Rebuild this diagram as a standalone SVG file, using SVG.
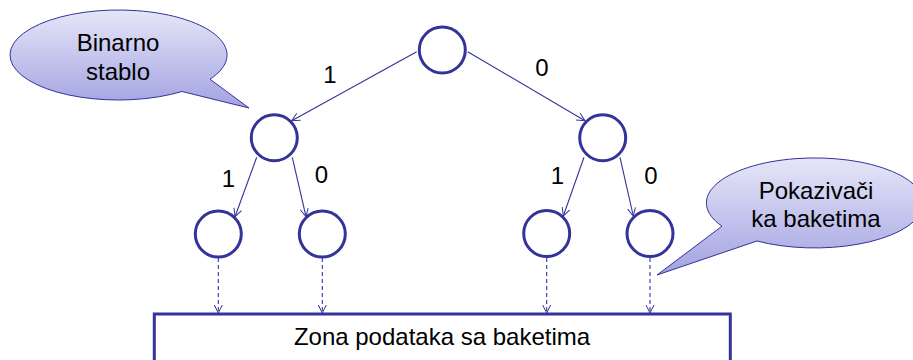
<svg xmlns="http://www.w3.org/2000/svg" width="913" height="360" viewBox="0 0 913 360">
<defs>
<linearGradient id="bub" x1="0" y1="0" x2="0" y2="1">
<stop offset="0" stop-color="#e6e6f8"/>
<stop offset="1" stop-color="#a2a2e2"/>
</linearGradient>
<marker id="ah" markerWidth="12" markerHeight="12" refX="9" refY="5" orient="auto" markerUnits="userSpaceOnUse">
<path d="M1,1 L9,5 L1,9" fill="none" stroke="#333399" stroke-width="1"/>
</marker>
<style>
.node{fill:#fff;stroke:#333399;stroke-width:3}
.edge{stroke:#333399;stroke-width:1.1;fill:none;marker-end:url(#ah)}
.dash{stroke:#3333aa;stroke-width:1.1;fill:none;stroke-dasharray:4 3;marker-end:url(#ah)}
.lbl{font-family:"Liberation Sans",Arial,sans-serif;font-size:24px;fill:#000;text-anchor:middle}
.bubble{fill:url(#bub);stroke:#333399;stroke-width:1}
</style>
</defs>
<rect width="913" height="360" fill="#fff"/>
<g id="bubble-left">
<path class="bubble" d="M210,79.2 L249,108 L182,91.5 A108.5,45 0 1 1 210,79.2 Z"/>
<text class="lbl" x="118" y="51">Binarno</text>
<text class="lbl" x="118" y="80">stablo</text>
</g>
<g id="bubble-right">
<path class="bubble" d="M722,226.2 L657,275 L757,241 A108.5,45 0 1 0 722,226.2 Z"/>
<text class="lbl" x="816" y="199">Pokazivači</text>
<text class="lbl" x="816" y="227">ka baketima</text>
</g>
<g id="connectors">
<line class="edge" x1="416.7" y1="51.7" x2="291.7" y2="120.7"/>
<line class="edge" x1="467.7" y1="51.7" x2="585" y2="120.7"/>
<line class="edge" x1="256.7" y1="157.3" x2="235" y2="216.7"/>
<line class="edge" x1="292.3" y1="157.3" x2="306" y2="216.7"/>
<line class="edge" x1="584" y1="157.3" x2="563.3" y2="216"/>
<line class="edge" x1="620" y1="157.3" x2="633.3" y2="216"/>
<line class="dash" x1="218.3" y1="258" x2="218.3" y2="313"/>
<line class="dash" x1="322.3" y1="258" x2="322.3" y2="313"/>
<line class="dash" x1="546.7" y1="258" x2="546.7" y2="313"/>
<line class="dash" x1="650" y1="258" x2="650" y2="313"/>
</g>
<g id="edge-labels">
<text class="lbl" x="330" y="83">1</text>
<text class="lbl" x="542" y="76">0</text>
<text class="lbl" x="228.5" y="187">1</text>
<text class="lbl" x="321.5" y="183">0</text>
<text class="lbl" x="557.5" y="184">1</text>
<text class="lbl" x="651" y="184">0</text>
</g>
<g id="n-root"><circle class="node" cx="442.3" cy="50" r="23"/></g>
<g id="n-1"><circle class="node" cx="274.3" cy="137.7" r="23"/></g>
<g id="n-0"><circle class="node" cx="602.7" cy="137.7" r="23"/></g>
<g id="n-11"><circle class="node" cx="218.3" cy="234" r="23"/></g>
<g id="n-10"><circle class="node" cx="322.3" cy="234" r="23"/></g>
<g id="n-01"><circle class="node" cx="546.7" cy="233.5" r="23"/></g>
<g id="n-00"><circle class="node" cx="650" cy="233.5" r="23"/></g>
<g id="zone">
<rect x="154.3" y="314" width="576" height="60" fill="#fff" stroke="#333399" stroke-width="3"/>
<text class="lbl" x="442" y="345">Zona podataka sa baketima</text>
</g>
</svg>
